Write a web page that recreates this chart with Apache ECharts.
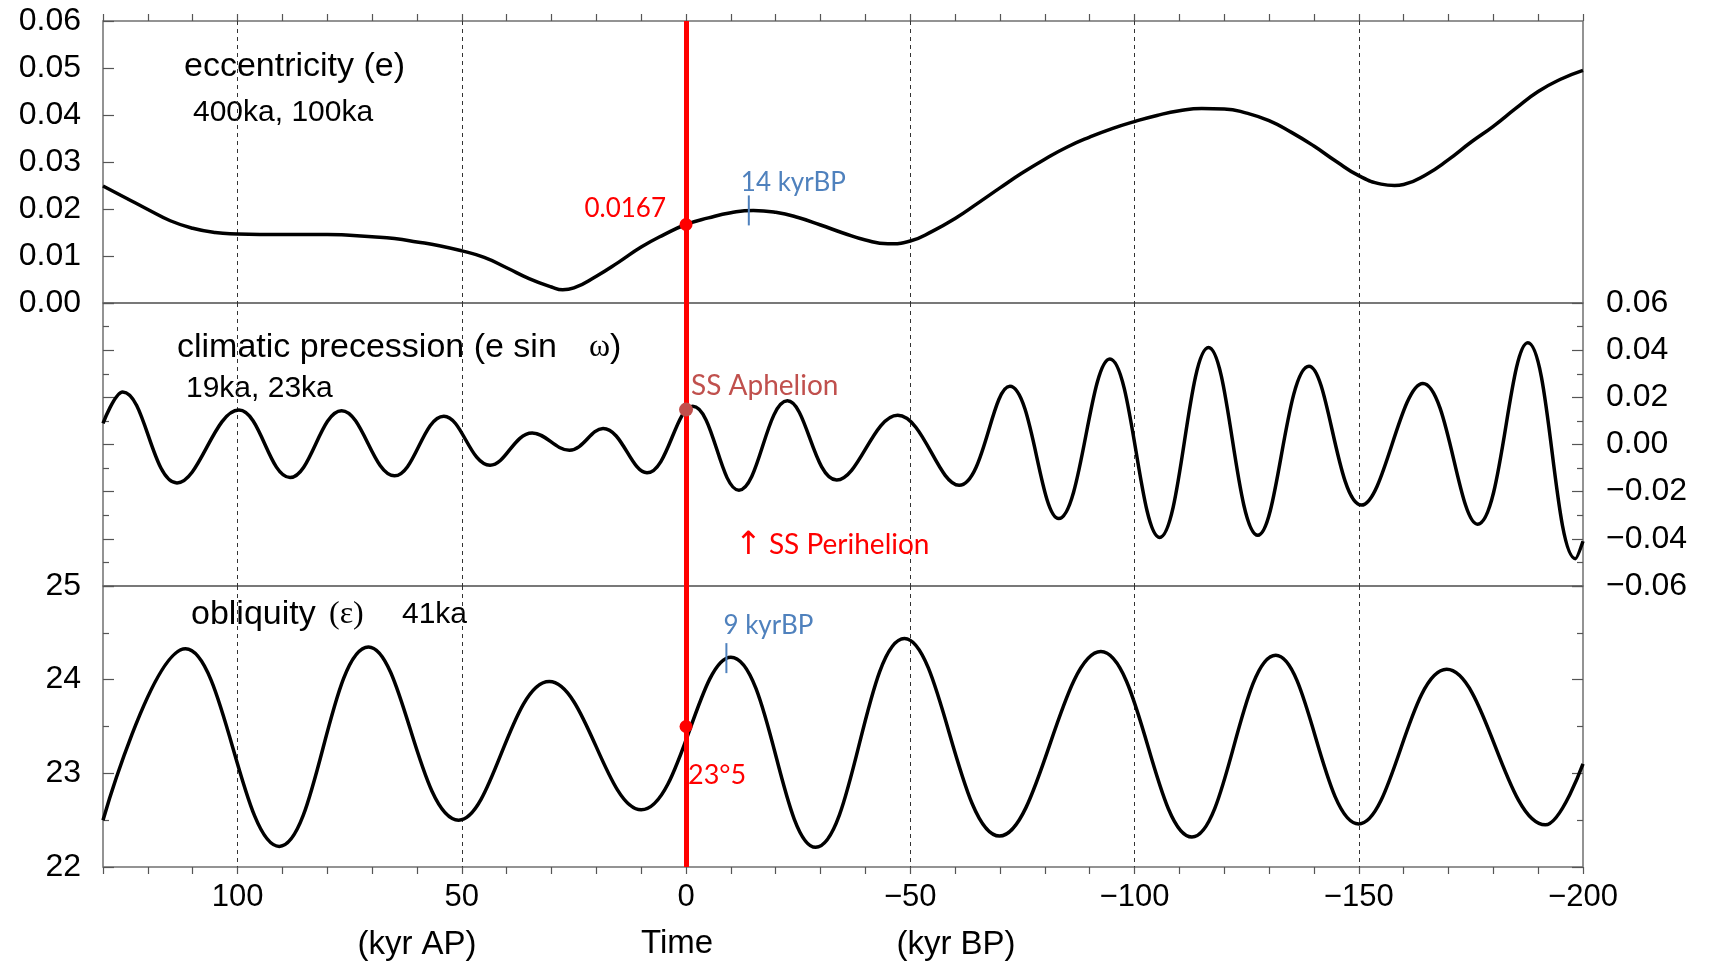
<!DOCTYPE html>
<html>
<head>
<meta charset="utf-8">
<title>Orbital parameters: eccentricity, climatic precession, obliquity</title>
<script src="https://cdn.jsdelivr.net/npm/echarts@6/dist/echarts.min.js"></script>
<style>
  html, body { margin: 0; padding: 0; background: #fff; }
  #chart { width: 1715px; height: 966px; }
</style>
</head>
<body>
<div id="chart"></div>
<script>
// ---- Time axis (kyr; positive = after present, negative = before present)
const timeMin = -200;
const timeMax = 130;
const timeTickStep = 10;
const timeLabelStep = 50;
const presentTime = 0;

// ---- Eccentricity (e)
const eccTime = [130, 125, 120, 115, 110, 105, 100, 95, 90, 85, 80, 75, 70, 65, 60, 55, 50, 45, 40, 35,
  30, 27.5, 25, 20, 15, 10, 5, 0, -5, -10, -15, -20, -25, -30, -35, -40, -45, -50, -55, -60,
  -65, -70, -75, -80, -85, -90, -95, -100, -105, -110, -115, -120, -125, -130, -135, -140,
  -145, -150, -155, -158, -160, -165, -170, -175, -180, -185, -190, -195, -200];
const eccValue = [0.0249, 0.0224, 0.0199, 0.0175, 0.0159, 0.0150, 0.0147, 0.0146, 0.0146, 0.0146,
  0.0146, 0.0144, 0.0141, 0.0137, 0.0130, 0.0122, 0.0111, 0.0097, 0.0075, 0.0052,
  0.0034, 0.0028, 0.0032, 0.0057, 0.0087, 0.0119, 0.0145, 0.0167, 0.0181, 0.0192,
  0.0197, 0.0193, 0.0182, 0.0166, 0.0149, 0.0134, 0.0126, 0.0132, 0.0153, 0.0180,
  0.0212, 0.0245, 0.0277, 0.0306, 0.0332, 0.0353, 0.0371, 0.0386, 0.0399, 0.0409,
  0.0414, 0.0413, 0.0404, 0.0388, 0.0363, 0.0334, 0.0301, 0.0271, 0.0253, 0.0250,
  0.0252, 0.0273, 0.0305, 0.0342, 0.0376, 0.0414, 0.0450, 0.0476, 0.0495];
const eccPresent = [presentTime, 0.0167];
const eccPeakMark = [-14, 0.0197];

// ---- Climatic precession (e sin ω): turning points of the cycle
const precTime = [130, 125.6, 113.5, 99.7, 88.3, 76.8, 65, 54, 43.7, 34.3,
  26, 18.5, 8.7, -1.5, -11.8, -22.6, -33.6, -47.2, -60.9, -72.2,
  -83.1, -94.5, -105.6, -116.5, -127.5, -138.9, -150.6, -164.3, -176.5, -187.7,
  -198.3, -200];
const precValue = [0.0090, 0.0223, -0.0163, 0.0146, -0.0140, 0.0143, -0.0133, 0.0120, -0.0088, 0.0049,
  -0.0024, 0.0068, -0.0120, 0.0162, -0.0194, 0.0185, -0.0151, 0.0124, -0.0173, 0.0247,
  -0.0314, 0.0363, -0.0394, 0.0411, -0.0385, 0.0332, -0.0257, 0.0259, -0.0338, 0.0431,
  -0.0484, -0.0410];
const precPresent = [presentTime, 0.0148];
const precPerihelion = [-11.8, -0.0194];

// ---- Obliquity (ε), degrees: turning points of the cycle
const oblTime = [130, 111.6, 90.7, 70.8, 50.7, 30.5, 10, -10, -28.9, -48.7,
  -69.9, -92.5, -112.8, -131.5, -150, -169.6, -191.6, -200];
const oblValue = [22.50, 24.33, 22.22, 24.35, 22.50, 23.98, 22.61, 24.24, 22.21, 24.44,
  22.33, 24.30, 22.32, 24.26, 22.46, 24.11, 22.45, 23.10];
const oblPresent = [presentTime, 23.5];
const oblPeakMark = [-9, 24.23];

// ---- Styling
const SANS = '"Liberation Sans", Arial, Helvetica, sans-serif';
const NOTE = 'Lato, "Open Sans", sans-serif';
const SERIF = '"Liberation Serif", "DejaVu Serif", serif';
const RED = '#ff0000';
const BLUE = '#4f81bd';
const BROWN = '#c0504d';
const FRAME = '#707070';
const TICK = { color: '#555', width: 1.2 };

const MINUS = '\u2212';
const pairs = (xs, ys) => xs.map((x, i) => [x, ys[i]]);

function timeLabel(v) {
  if (Math.abs(v % timeLabelStep) > 1e-9) return '';
  return v < 0 ? MINUS + (-v) : String(v);
}
function signedLabel(v) {
  if (Math.abs(v) < 1e-9) return '0.00';
  return (v < 0 ? MINUS : '') + Math.abs(v).toFixed(2);
}

const grids = [
  { left: 103, right: 132, top: 21, height: 282 },
  { left: 103, right: 132, top: 303, height: 283 },
  { left: 103, right: 132, top: 586, height: 281 }
].map(g => Object.assign(g, { show: true, borderColor: FRAME, borderWidth: 1.5, backgroundColor: 'transparent' }));

function timeAxis(gridIndex, position, extra) {
  return Object.assign({
    gridIndex, type: 'value', position, min: timeMin, max: timeMax, inverse: true,
    interval: timeTickStep,
    axisLine: { show: false, onZero: false },
    axisTick: { show: false },
    axisLabel: { show: false },
    splitLine: { show: false }
  }, extra || {});
}
// vertical dashed guides every 50 kyr
function guideAxis(gridIndex, position) {
  return timeAxis(gridIndex, position, {
    interval: timeLabelStep,
    splitLine: {
      show: true, showMinLine: false, showMaxLine: false,
      lineStyle: { color: '#333', width: 1, type: [4, 4] }
    }
  });
}

const tickedSide = { show: true, inside: true, length: 11, lineStyle: TICK };
const minorSide = { show: true, splitNumber: 2, length: 6, lineStyle: TICK };

function valueAxis(gridIndex, position, min, max, interval, extra) {
  return Object.assign({
    gridIndex, type: 'value', position, min, max, interval,
    axisLine: { show: false, onZero: false },
    axisTick: tickedSide,
    axisLabel: { show: false },
    splitLine: { show: false },
    minorSplitLine: { show: false }
  }, extra || {});
}
const sideLabel = (formatter, margin) => ({
  show: true, formatter, margin, color: '#000', fontFamily: SANS, fontSize: 32
});

const presentLine = {
  silent: true, symbol: ['none', 'none'], label: { show: false },
  lineStyle: { color: RED, width: 5, type: 'solid', opacity: 1 },
  emphasis: { disabled: true },
  data: [{ xAxis: presentTime }]
};

const curve = (name, xAxisIndex, yAxisIndex, data, smooth) => ({
  name, type: 'line', xAxisIndex, yAxisIndex, data, smooth, symbol: 'none',
  lineStyle: { color: '#000', width: 3.5 }, z: 3, markLine: presentLine
});

function marker(xAxisIndex, yAxisIndex, point, style, label) {
  return {
    type: 'scatter', xAxisIndex, yAxisIndex, data: [point], z: 10,
    symbol: style.symbol || 'circle', symbolSize: style.size,
    itemStyle: { color: style.color, opacity: 1 },
    label: Object.assign({ show: true, position: 'inside', verticalAlign: 'middle' }, label),
    emphasis: { disabled: true }
  };
}

const option = {
  animation: false,
  backgroundColor: '#fff',
  grid: grids,
  xAxis: [
    timeAxis(0, 'top', { axisTick: { show: true, inside: false, length: 7, lineStyle: TICK } }),
    guideAxis(0, 'bottom'),
    guideAxis(1, 'bottom'),
    timeAxis(2, 'bottom', {
      axisTick: { show: true, inside: false, length: 7, lineStyle: TICK },
      axisLabel: { show: true, formatter: timeLabel, margin: 15, color: '#000', fontFamily: SANS, fontSize: 31 }
    }),
    guideAxis(2, 'top')
  ],
  yAxis: [
    valueAxis(0, 'left', 0, 0.06, 0.01, { axisLabel: sideLabel(v => v.toFixed(2), 22) }),
    valueAxis(1, 'left', -0.06, 0.06, 0.02, { minorTick: minorSide }),
    valueAxis(1, 'right', -0.06, 0.06, 0.02, { minorTick: minorSide, axisLabel: sideLabel(signedLabel, 23) }),
    valueAxis(2, 'left', 22, 25, 1, { minorTick: minorSide, axisLabel: sideLabel(v => String(v), 22) }),
    valueAxis(2, 'right', 22, 25, 1, { minorTick: minorSide })
  ],
  series: [
    curve('eccentricity', 1, 0, pairs(eccTime, eccValue), 0.5),
    curve('climatic precession', 2, 1, pairs(precTime, precValue), 0.4),
    curve('obliquity', 4, 3, pairs(oblTime, oblValue), 0.4),

    marker(1, 0, eccPresent, { color: RED, size: 13 }, {
      formatter: p => p.value[1].toFixed(4), align: 'right', offset: [-20, -16],
      color: RED, fontFamily: NOTE, fontSize: 26
    }),
    marker(1, 0, eccPeakMark, { color: BLUE, size: [2, 30], symbol: 'rect' }, {
      formatter: p => (-p.value[0]) + ' kyrBP', align: 'left', offset: [-8, -28],
      color: BLUE, fontFamily: NOTE, fontSize: 26
    }),
    marker(2, 1, precPresent, { color: BROWN, size: 14 }, {
      formatter: 'SS Aphelion', align: 'left', offset: [5, -24],
      color: BROWN, fontFamily: NOTE, fontSize: 28
    }),
    marker(2, 1, precPerihelion, { color: 'rgba(0,0,0,0)', size: 1 }, {
      formatter: '{a|\u2191} SS Perihelion', align: 'left', offset: [-4, 55],
      color: RED, fontFamily: NOTE, fontSize: 28,
      rich: { a: { fontFamily: '"DejaVu Sans", sans-serif', fontSize: 32, color: RED } }
    }),
    marker(4, 3, oblPresent, { color: RED, size: 13 }, {
      formatter: p => Math.floor(p.value[1]) + '\u00b0' + Math.round((p.value[1] % 1) * 10),
      align: 'left', offset: [2, 49], color: RED, fontFamily: NOTE, fontSize: 27
    }),
    marker(4, 3, oblPeakMark, { color: BLUE, size: [2, 30], symbol: 'rect' }, {
      formatter: p => (-p.value[0]) + ' kyrBP', align: 'left', offset: [-3, -33],
      color: BLUE, fontFamily: NOTE, fontSize: 26
    })
  ],
  graphic: [
    { type: 'text', x: 184, y: 67, style: { text: 'eccentricity (e)', font: '34px ' + SANS, fill: '#000', align: 'left', verticalAlign: 'middle' } },
    { type: 'text', x: 193, y: 113, style: { text: '400ka, 100ka', font: '30px ' + SANS, fill: '#000', align: 'left', verticalAlign: 'middle' } },
    { type: 'text', x: 177, y: 348, style: { text: 'climatic precession (e sin', font: '34px ' + SANS, fill: '#000', align: 'left', verticalAlign: 'middle' } },
    { type: 'text', x: 589, y: 348, style: { text: '{w|\u03c9})', font: '34px ' + SANS, fill: '#000', align: 'left', verticalAlign: 'middle',
        rich: { w: { font: '32px ' + SERIF, fill: '#000' } } } },
    { type: 'text', x: 186, y: 389, style: { text: '19ka, 23ka', font: '30px ' + SANS, fill: '#000', align: 'left', verticalAlign: 'middle' } },
    { type: 'text', x: 191, y: 615, style: { text: 'obliquity', font: '34px ' + SANS, fill: '#000', align: 'left', verticalAlign: 'middle' } },
    { type: 'text', x: 329, y: 615, style: { text: '(\u03b5)', font: '32px ' + SERIF, fill: '#000', align: 'left', verticalAlign: 'middle' } },
    { type: 'text', x: 402, y: 615, style: { text: '41ka', font: '30px ' + SANS, fill: '#000', align: 'left', verticalAlign: 'middle' } },
    { type: 'text', x: 417, y: 945, style: { text: '(kyr AP)', font: '33px ' + SANS, fill: '#000', align: 'center', verticalAlign: 'middle' } },
    { type: 'text', x: 677, y: 944, style: { text: 'Time', font: '33px ' + SANS, fill: '#000', align: 'center', verticalAlign: 'middle' } },
    { type: 'text', x: 956, y: 945, style: { text: '(kyr BP)', font: '33px ' + SANS, fill: '#000', align: 'center', verticalAlign: 'middle' } }
  ]
};

const chart = echarts.init(document.getElementById('chart'), null, { renderer: 'canvas' });
chart.setOption(option);
</script>
</body>
</html>
